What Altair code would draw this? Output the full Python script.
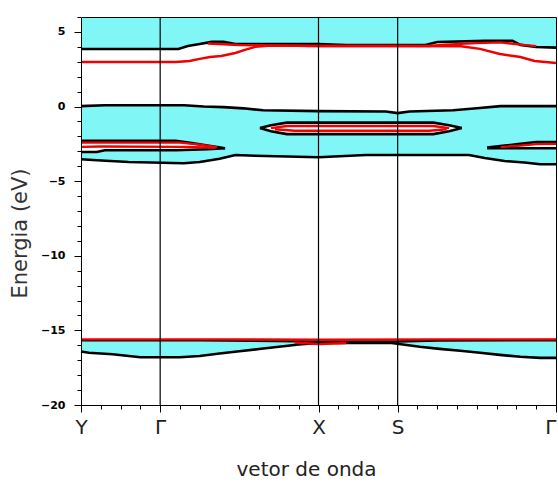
import altair as alt
import pandas as pd

# ---------------- data ----------------
sym_k = [0, 1, 3, 4, 6]                      # Y, Γ, X, S, Γ
vline_k = [1, 3, 4]
y_major = [-20, -15, -10, -5, 0, 5]
y_minor = [-20, -19, -18, -17, -16, -15, -14, -13, -12, -11, -10, -9, -8, -7,
           -6, -5, -4, -3, -2, -1, 0, 1, 2, 3, 4, 5, 6]
x_minor = [0, 0.25, 0.5, 0.75, 1, 1.25, 1.5, 1.75, 2, 2.25, 2.5, 2.75, 3,
           3.25, 3.5, 3.75, 4, 4.25, 4.5, 4.75, 5, 5.25, 5.5, 5.75, 6]

# upper band edge (cyan above)
k_top = [0, 1.23, 1.35, 1.5, 1.65, 1.8, 1.95, 3.0, 3.35, 4.35, 4.5, 5.1, 5.45, 5.55, 5.75, 6]
E_top = [3.86, 3.86, 4.06, 4.19, 4.33, 4.33, 4.19, 4.19, 4.12, 4.12, 4.33, 4.4, 4.4, 4.13, 3.99, 3.95]

# red bands near the top
k_r1 = [1.6, 2.0, 3.0, 4.4, 4.6, 5.0, 5.3, 5.55, 5.75]
E_r1 = [4.22, 4.12, 4.06, 4.06, 4.15, 4.25, 4.3, 4.15, 4.05]
k_r2 = [0, 1.2, 1.37, 1.5, 1.63, 1.77, 1.95, 2.07, 2.2, 2.4, 3.0, 4.0, 4.8, 5.04, 5.29, 5.55, 5.73, 6]
E_r2 = [2.98, 2.98, 3.05, 3.19, 3.32, 3.39, 3.59, 3.79, 4.0, 4.08, 4.06, 4.06, 4.04, 3.86, 3.52, 3.32, 3.05, 2.92]

# middle cyan band: upper and lower edges
k_mu = [0, 0.3, 1.3, 1.55, 1.8, 2.05, 2.3, 3.0, 3.85, 4.0, 4.15, 4.7, 5.0, 5.3, 6]
E_mu = [0.03, 0.09, 0.09, 0.0, -0.04, -0.12, -0.25, -0.31, -0.33, -0.44, -0.33, -0.25, -0.12, 0.03, 0.03]
k_ml = [0, 0.2, 0.6, 1.3, 1.5, 1.75, 1.95, 2.2, 3.0, 3.6, 4.9, 5.1, 5.35, 5.6, 5.8, 6]
E_ml = [-3.53, -3.6, -3.72, -3.8, -3.72, -3.5, -3.25, -3.3, -3.4, -3.25, -3.25, -3.45, -3.65, -3.75, -3.87, -3.87]

# white pockets inside the middle band
k_p1 = [0, 0.2, 0.3, 1.2, 1.4, 1.6, 1.82]
E_p1u = [-2.3, -2.3, -2.3, -2.3, -2.45, -2.62, -2.8]
E_p1l = [-3.05, -3.05, -2.93, -2.93, -2.9, -2.86, -2.8]
k_p2 = [2.26, 2.4, 2.6, 4.45, 4.65, 4.81]
E_p2u = [-1.44, -1.25, -1.08, -1.08, -1.25, -1.44]
E_p2l = [-1.44, -1.65, -1.85, -1.85, -1.65, -1.44]
k_p3 = [5.13, 5.35, 5.55, 5.75, 6]
E_p3u = [-2.75, -2.62, -2.5, -2.38, -2.38]
E_p3l = [-2.8, -2.8, -2.8, -2.8, -2.8]

# red lines in the pockets
k_rp1a = [0, 1.25, 1.5, 1.72]
E_rp1a = [-2.42, -2.42, -2.55, -2.72]
k_rp1b = [0, 0.25, 1.3, 1.7]
E_rp1b = [-2.7, -2.68, -2.7, -2.76]
k_rp2a = [2.4, 2.6, 4.45, 4.65]
E_rp2a = [-1.45, -1.3, -1.3, -1.45]
k_rp2b = [2.45, 2.7, 4.4, 4.62]
E_rp2b = [-1.52, -1.62, -1.62, -1.52]
k_rp3 = [5.3, 5.55, 5.75, 6]
E_rp3 = [-2.72, -2.62, -2.52, -2.5]

# bottom cyan band
k_bu = [0, 1.5, 3.0, 4.0, 4.5, 6]
E_bu = [-15.66, -15.66, -15.74, -15.74, -15.67, -15.65]
k_bl = [0, 0.1, 0.4, 0.75, 1.25, 1.5, 1.75, 2.0, 2.25, 2.5, 2.75, 3.0, 3.9, 4.28, 4.53, 4.79, 5.04, 5.29, 5.55, 5.8, 6]
E_bl = [-16.42, -16.5, -16.6, -16.8, -16.8, -16.72, -16.55, -16.4, -16.25, -16.1, -15.95, -15.85, -15.83, -16.1, -16.24, -16.37, -16.5, -16.64, -16.77, -16.84, -16.84]
k_r3 = [0, 1.5, 3.0, 4.5, 6]
E_r3 = [-15.6, -15.6, -15.63, -15.6, -15.6]
k_r4 = [2.7, 3.0, 3.35]
E_r4 = [-15.82, -15.92, -15.85]

# ---------------- styling ----------------
CYAN = "#80f6f6"
RED = "#f00000"
FONT = "DejaVu Sans"
xs = alt.Scale(domain=[0, 6], nice=False, zero=False)
ys = alt.Scale(domain=[-20, 6], nice=False, zero=False)


def frame(k, E):
    return pd.DataFrame({"k": k, "E": E})


def area(k, E, y2, color):
    return alt.Chart(frame(k, E)).mark_area(color=color, interpolate="linear").encode(
        x=alt.X("k:Q", scale=xs, axis=None),
        y=alt.Y("E:Q", scale=ys, axis=None),
        y2=y2,
    )


def pocket(k, up, lo):
    df = pd.DataFrame({"k": k, "E": up, "E2": lo})
    return alt.Chart(df).mark_area(color="white", interpolate="linear").encode(
        x=alt.X("k:Q", scale=xs, axis=None),
        y=alt.Y("E:Q", scale=ys, axis=None),
        y2=alt.Y2("E2:Q"),
    )


def long(curves):
    rows = []
    for name, (k, E) in curves.items():
        for a, b in zip(k, E):
            rows.append({"curve": name, "k": a, "E": b})
    return pd.DataFrame(rows)


black = long({
    "top": (k_top, E_top), "mu": (k_mu, E_mu), "ml": (k_ml, E_ml),
    "p1u": (k_p1, E_p1u), "p1l": (k_p1, E_p1l),
    "p2u": (k_p2, E_p2u), "p2l": (k_p2, E_p2l),
    "p3u": (k_p3, E_p3u), "p3l": (k_p3, E_p3l),
    "bu": (k_bu, E_bu), "bl": (k_bl, E_bl),
})
red = long({
    "r1": (k_r1, E_r1), "r2": (k_r2, E_r2),
    "rp1a": (k_rp1a, E_rp1a), "rp1b": (k_rp1b, E_rp1b),
    "rp2a": (k_rp2a, E_rp2a), "rp2b": (k_rp2b, E_rp2b),
    "rp3": (k_rp3, E_rp3),
    "r3": (k_r3, E_r3), "r4": (k_r4, E_r4),
})

areas = [
    area(k_top, E_top, alt.datum(6), CYAN),
    area(k_mu, E_mu, alt.datum(-9), CYAN),
    area(k_ml, E_ml, alt.datum(-10), "white"),
    pocket(k_p1, E_p1u, E_p1l),
    pocket(k_p2, E_p2u, E_p2l),
    pocket(k_p3, E_p3u, E_p3l),
    area(k_bu, E_bu, alt.datum(-20), CYAN),
    area(k_bl, E_bl, alt.datum(-20), "white"),
]

# black lines carry the main (labelled) axes
black_layer = alt.Chart(black).mark_line(color="black", strokeWidth=2.6).encode(
    x=alt.X("k:Q", scale=xs, axis=alt.Axis(
        orient="bottom", values=sym_k,
        labelExpr="datum.value == 0 ? 'Y' : datum.value == 1 ? 'Γ' : datum.value == 3 ? 'X' : datum.value == 4 ? 'S' : 'Γ'",
        labelAlign={"condition": {"test": "datum.value == 6", "value": "right"}, "value": "center"},
        tickSize=7, tickColor="black", domainColor="black", grid=False,
        labelFont=FONT, labelFontSize=20, labelColor="#222", labelPadding=5,
        labelFlush=False, labelOverlap=False,
        title="vetor de onda", titleFont=FONT, titleFontSize=20,
        titleFontWeight="normal", titleColor="#222", titlePadding=22,
        titleX=225, titleAlign="center", zindex=1)),
    y=alt.Y("E:Q", scale=ys, axis=alt.Axis(
        orient="left", values=y_major, tickSize=7, tickColor="black",
        domainColor="black", grid=False,
        labelFont=FONT, labelFontSize=11, labelFontWeight="bold", labelColor="black",
        labelPadding=9, labelFlush=False,
        title="Energia (eV)", titleFont=FONT, titleFontSize=21,
        titleFontWeight="normal", titleColor="#333", titlePadding=10,
        titleY=216, titleAlign="center", zindex=1)),
    detail="curve:N",
)

# red lines carry the minor-tick axes
red_layer = alt.Chart(red).mark_line(color=RED, strokeWidth=2.4).encode(
    x=alt.X("k:Q", scale=xs, axis=alt.Axis(
        orient="bottom", values=x_minor, tickSize=4, tickColor="black",
        labels=False, domain=False, grid=False, title="")),
    y=alt.Y("E:Q", scale=ys, axis=alt.Axis(
        orient="left", values=y_minor, tickSize=4, tickColor="black",
        labels=False, domain=False, grid=False, title="")),
    detail="curve:N",
)

# vertical symmetry lines carry the top frame
vlines = alt.Chart(pd.DataFrame({"k": vline_k})).mark_rule(color="black", strokeWidth=1.2).encode(
    x=alt.X("k:Q", scale=xs, axis=alt.Axis(
        orient="top", ticks=False, labels=False, domain=True, domainColor="black",
        grid=False, title="", zindex=1)),
)
frame_right = alt.Chart(pd.DataFrame({"E": y_major})).mark_tick(opacity=0).encode(
    y=alt.Y("E:Q", scale=ys, axis=alt.Axis(
        orient="right", ticks=False, labels=False, domain=True, domainColor="black",
        grid=False, title="", zindex=1)),
)

chart = alt.layer(*areas, black_layer, red_layer, vlines, frame_right).resolve_axis(
    x="independent", y="independent"
).properties(
    width=475, height=388,
    autosize=alt.AutoSizeParams(type="none"),
    padding={"left": 81, "top": 17, "right": 2, "bottom": 79},
    background="white",
).configure_view(stroke="transparent")

chart.save("out.html", embed_options={"renderer": "svg", "actions": False})
